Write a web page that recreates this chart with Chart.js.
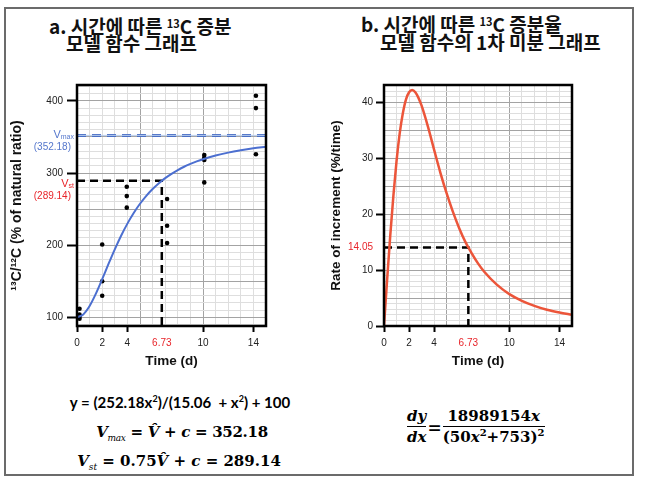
<!DOCTYPE html>
<html>
<head>
<meta charset="utf-8">
<script src="https://cdn.jsdelivr.net/npm/chart.js@4.4.1/dist/chart.umd.min.js"></script>
<style>
html, body { margin: 0; padding: 0; background: #fff; }
#page { position: relative; width: 646px; height: 483px; overflow: hidden; background: #fff; }
#box { position: absolute; left: 4px; top: 7px; width: 630px; height: 469px; border: 2px solid #6b6b6b; box-sizing: border-box; }
.ttl { position: absolute; font-family: 'Noto Sans CJK KR', sans-serif; font-weight: 700; font-size: 19px; line-height: 22px; white-space: nowrap; color: #111; }
.ttl sup { font-size: 11px; vertical-align: 6px; line-height: 0; }
canvas { position: absolute; }
.eq { position: absolute; white-space: nowrap; color: #000; line-height: 20px; transform: translateX(-50%); }
.cal { font-family: Lato, 'Liberation Sans', sans-serif; font-weight: 700; font-size: 15px; }
.cal sup { font-size: 9px; vertical-align: 6px; line-height: 0; }
.math { font-family: 'DejaVu Serif', serif; font-weight: 700; font-size: 15px; }
.math sub { font-size: 9px; font-weight: 400; font-style: italic; vertical-align: -4px; line-height: 0; }
.math sup { font-size: 10px; vertical-align: 6px; line-height: 0; }
#deriv { position: absolute; left: 407px; top: 407px; display: flex; align-items: center; font-size: 15px; }
.frac { display: inline-flex; flex-direction: column; align-items: stretch; text-align: center; }
.frac .den { border-top: 1.6px solid #000; padding-top: 1px; }
.frac span { line-height: 19px; }
</style>
</head>
<body>
<div id="page">
  <div id="box"></div>
  <div class="ttl" style="left:49px;top:15px">a. 시간에 따른 <sup>13</sup>C 증분</div>
  <div class="ttl" style="left:66px;top:32px">모델 함수 그래프</div>
  <div class="ttl" style="left:361px;top:13px">b. 시간에 따른 <sup>13</sup>C 증분율</div>
  <div class="ttl" style="left:380px;top:31px">모델 함수의 1차 미분 그래프</div>

  <canvas id="c1" width="290" height="300" style="left:0;top:70px"></canvas>
  <canvas id="c2" width="300" height="300" style="left:320px;top:70px"></canvas>

  <div class="eq cal" style="left:180px;top:392px">y = (252.18x<sup>2</sup>)/(15.06&nbsp; + x<sup>2</sup>) + 100</div>
  <div class="eq math" style="left:182px;top:422px;letter-spacing:-0.3px"><i>V</i><sub>max</sub> = <i>V&#770;</i> + <i>c</i> = 352.18</div>
  <div class="eq math" style="left:179px;top:451px"><i>V</i><sub>st</sub> = 0.75<i>V&#770;</i> + <i>c</i> = 289.14</div>

  <div id="deriv" class="math">
    <span class="frac"><span><i>dy</i></span><span class="den"><i>dx</i></span></span>
    <span style="margin:0 1px;font-size:17px">=</span>
    <span class="frac"><span>18989154<i>x</i></span><span class="den">(50<i>x</i><sup>2</sup>+753)<sup>2</sup></span></span>
  </div>
</div>

<script>
// model curve, a.
const tDays = [0, 0.5, 1, 1.5, 2, 2.5, 3, 3.5, 4, 4.5, 5, 5.5, 6, 6.5, 7, 7.5, 8, 8.5, 9, 9.5, 10, 11, 12, 13, 14, 15];
const modelRatio = [100, 104.1, 115.7, 132.8, 152.9, 174.0, 194.3, 213.1, 229.9, 244.6, 257.4, 268.4, 277.8, 285.9, 292.9, 298.9, 304.1, 308.7, 312.6, 316.1, 319.2, 324.3, 328.3, 331.5, 334.2, 336.4];

// measured points, a.
const obsDays = [0.2, 0.2, 0.2, 0.2, 2, 2, 2, 3.95, 3.95, 3.95, 7.15, 7.15, 7.15, 10.1, 10.1, 10.1, 10.1, 14.2, 14.2, 14.2];
const obsRatio = [112, 104, 101, 98, 201, 150, 130, 281, 268, 252, 264, 227, 203, 325, 321, 318, 287, 407, 390, 326];

// derivative curve, b.
const rateDays = [0, 0.25, 0.5, 0.75, 1, 1.25, 1.5, 1.75, 2, 2.25, 2.5, 2.75, 3, 3.5, 4, 4.5, 5, 5.5, 6, 6.5, 7, 7.5, 8, 9, 10, 11, 12, 13, 14, 15];
const rateValues = [0, 8.3, 16.2, 23.3, 29.5, 34.4, 38.0, 40.5, 41.8, 42.2, 41.8, 40.8, 39.4, 35.7, 31.5, 27.4, 23.7, 20.4, 17.5, 15.0, 13.0, 11.2, 9.7, 7.4, 5.7, 4.5, 3.6, 2.9, 2.4, 2.0];

// reference levels
const vMax = 352.18;
const vSt = 289.14;
const tSt = 6.73;
const rSt = 14.05;

// tick labels
const xTickLabels = [0, 2, 4, 10, 14];
const yTickLabelsA = [100, 200, 300, 400];
const yTickLabelsB = [0, 10, 20, 30, 40];

const FONT = "'Liberation Sans', Arial, sans-serif";
const RED = '#e8242a';
const CLEAR = 'rgba(0,0,0,0)';

function steps(min, max, step, extra) {
  const t = [];
  for (let v = min; v <= max; v += step) t.push(v);
  if (extra !== undefined) t.push(extra);
  t.sort((a, b) => a - b);
  return t.map(v => ({ value: v }));
}
function pts(xs, ys) { return xs.map((x, i) => ({ x: x, y: ys[i] })); }

const frame = {
  id: 'frame',
  afterDraw(chart) {
    const { ctx, chartArea: a } = chart;
    ctx.save();
    ctx.lineWidth = 2.5;
    ctx.strokeStyle = '#000';
    ctx.strokeRect(a.left, a.top, a.right - a.left, a.bottom - a.top);
    ctx.restore();
  }
};

// V_max / V_st labels left of axis a.
function level(ctx, right, y, sub, val, color) {
  ctx.fillStyle = color;
  ctx.textBaseline = 'middle';
  ctx.textAlign = 'right';
  ctx.font = '7px ' + FONT;
  const w = ctx.measureText(sub).width;
  ctx.fillText(sub, right, y + 2);
  ctx.font = '11px ' + FONT;
  ctx.fillText('V', right - w, y);
  ctx.font = '10px ' + FONT;
  ctx.fillText('(' + val.toFixed(2) + ')', right - 3, y + 12);
}
const levelLabels = {
  id: 'levelLabels',
  afterDraw(chart) {
    const { ctx, scales } = chart;
    const r = chart.chartArea.left - 3;
    ctx.save();
    level(ctx, r, scales.y.getPixelForValue(vMax), 'max', vMax, '#5577cc');
    level(ctx, r, scales.y.getPixelForValue(vSt) + 3, 'st', vSt, RED);
    ctx.restore();
  }
};

function xAxis() {
  return {
    type: 'linear', min: 0, max: 15,
    afterBuildTicks(s) { s.ticks = steps(0, 15, 1, tSt); },
    afterFit(s) { s.height = 44; },
    grid: {
      color: c => c.tick.value === tSt ? CLEAR : (c.tick.value % 5 === 0 ? '#a3a3a3' : '#dedede'),
      tickColor: c => xTickLabels.includes(c.tick.value) ? '#000' : CLEAR,
      tickWidth: 2, tickLength: 6, lineWidth: 1
    },
    border: { display: false },
    ticks: {
      autoSkip: false, maxRotation: 0, padding: 5,
      font: { family: FONT, size: 10 },
      color: c => c.tick.value === tSt ? RED : '#222',
      callback: v => v === tSt ? tSt.toFixed(2) : (xTickLabels.includes(v) ? String(v) : '')
    },
    title: { display: true, text: 'Time (d)', font: { family: FONT, size: 13.5, weight: 'bold' }, color: '#111', padding: { top: 0, bottom: 1 } }
  };
}

new Chart(document.getElementById('c1'), {
  type: 'line',
  data: {
    datasets: [
      { data: pts(tDays, modelRatio), borderColor: '#4c6fd0', borderWidth: 2, pointRadius: 0, cubicInterpolationMode: 'monotone' },
      { data: [{ x: 0, y: vMax }, { x: 15, y: vMax }], borderColor: '#b8cdee', borderWidth: 1, pointRadius: 0 },
      { data: [{ x: 0, y: vMax }, { x: 15, y: vMax }], borderColor: '#4a6fc4', borderWidth: 3, borderDash: [9, 6], pointRadius: 0 },
      { data: [{ x: 0, y: vSt }, { x: tSt, y: vSt }, { x: tSt, y: 88 }], borderColor: '#000', borderWidth: 2.5, borderDash: [8, 5], pointRadius: 0 },
      { data: pts(obsDays, obsRatio), showLine: false, pointRadius: 2.3, pointBackgroundColor: '#000', pointBorderWidth: 0 }
    ]
  },
  options: {
    responsive: false, animation: false,
    layout: { padding: { top: 15, right: 24, left: 0, bottom: 0 } },
    plugins: { legend: { display: false }, tooltip: { enabled: false } },
    scales: {
      x: xAxis(),
      y: {
        type: 'linear', min: 88, max: 422,
        afterBuildTicks(s) { s.ticks = steps(90, 420, 10); },
        afterFit(s) { s.width = 77; },
        grid: {
          color: c => c.tick.value % 50 === 0 ? '#a3a3a3' : '#dedede',
          tickColor: c => yTickLabelsA.includes(c.tick.value) ? '#000' : CLEAR,
          tickWidth: 2, tickLength: 10, lineWidth: 1
        },
        border: { display: false },
        ticks: {
          autoSkip: false, padding: 4,
          font: { family: FONT, size: 10 }, color: '#222',
          callback: v => yTickLabelsA.includes(v) ? String(v) : ''
        },
        title: { display: true, text: '¹³C/¹²C (% of natural ratio)', font: { family: FONT, size: 14, weight: 'bold' }, color: '#111', padding: { top: 9, bottom: 0 } }
      }
    }
  },
  plugins: [frame, levelLabels]
});

new Chart(document.getElementById('c2'), {
  type: 'line',
  data: {
    datasets: [
      { data: pts(rateDays, rateValues), borderColor: '#ec553a', borderWidth: 2.5, pointRadius: 0, cubicInterpolationMode: 'monotone' },
      { data: [{ x: 0, y: rSt }, { x: tSt, y: rSt }, { x: tSt, y: 0 }], borderColor: '#000', borderWidth: 2.5, borderDash: [8, 5], pointRadius: 0 }
    ]
  },
  options: {
    responsive: false, animation: false,
    layout: { padding: { top: 15, right: 48, left: 0, bottom: 0 } },
    plugins: { legend: { display: false }, tooltip: { enabled: false } },
    scales: {
      x: xAxis(),
      y: {
        type: 'linear', min: 0, max: 43.1,
        afterBuildTicks(s) { s.ticks = steps(0, 43, 1, rSt); },
        afterFit(s) { s.width = 64; },
        grid: {
          color: c => c.tick.value === rSt ? CLEAR : (c.tick.value % 5 === 0 ? '#a3a3a3' : '#dedede'),
          tickColor: c => yTickLabelsB.includes(c.tick.value) ? '#000' : CLEAR,
          tickWidth: 2, tickLength: 8, lineWidth: 1
        },
        border: { display: false },
        ticks: {
          autoSkip: false, padding: 3,
          font: { family: FONT, size: 10 },
          color: c => c.tick.value === rSt ? RED : '#222',
          callback: v => v === rSt ? rSt.toFixed(2) : (yTickLabelsB.includes(v) ? String(v) : '')
        },
        title: { display: true, text: 'Rate of increment (%/time)', font: { family: FONT, size: 13.5, weight: 'bold' }, color: '#111', padding: { top: 8, bottom: 0 } }
      }
    }
  },
  plugins: [frame]
});
</script>
</body>
</html>
